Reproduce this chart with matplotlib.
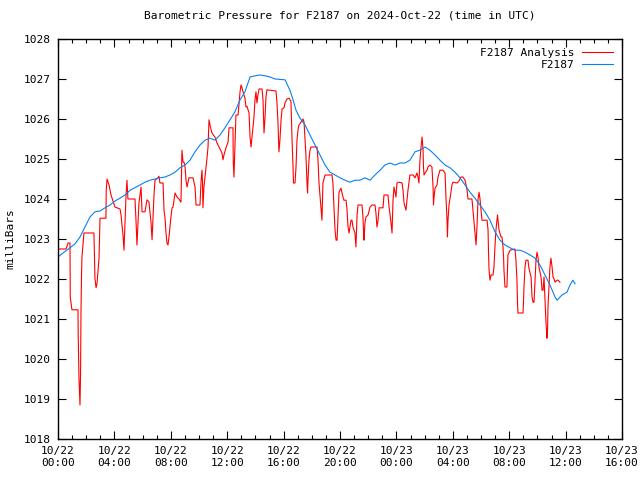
import matplotlib
matplotlib.use("Agg")
import matplotlib.pyplot as plt
from matplotlib.ticker import MultipleLocator, FixedLocator

# hours since 2024-10-22 00:00 UTC
analysis_h = [0.00, 0.57, 0.71, 0.85, 0.87, 0.99, 1.42, 1.43, 1.49, 1.56, 1.60, 1.63, 1.67, 1.70, 1.84,
              2.55, 2.62, 2.70, 2.77, 2.91, 2.98, 3.40, 3.42, 3.48, 3.62, 3.76, 4.04, 4.40, 4.47, 4.61,
              4.68, 4.82, 4.89, 4.96, 5.46, 5.53, 5.60, 5.74, 5.89, 5.96, 6.17, 6.31, 6.45, 6.60, 6.67,
              6.81, 6.88, 7.09, 7.16, 7.23, 7.45, 7.52, 7.59, 7.66, 7.73, 7.80, 7.87, 8.01, 8.09, 8.16,
              8.30, 8.44, 8.58, 8.72, 8.74, 8.79, 8.87, 8.94, 9.01, 9.08, 9.15, 9.29, 9.57, 9.72, 9.79,
              10.07, 10.14, 10.21, 10.25, 10.28, 10.35, 10.57, 10.64, 10.71, 10.78, 10.92, 11.06, 11.13,
              11.28, 11.42, 11.63, 11.70, 11.77, 11.91, 12.06, 12.13, 12.41, 12.43, 12.48, 12.62, 12.77,
              12.91, 12.98, 13.05, 13.12, 13.26, 13.33, 13.40, 13.55, 13.62, 13.69, 13.76, 13.83, 13.90,
              13.97, 14.04, 14.11, 14.18, 14.26, 14.47, 14.54, 14.61, 14.68, 14.75, 14.82, 15.46, 15.53,
              15.60, 15.64, 15.67, 15.74, 15.82, 15.89, 16.03, 16.10, 16.24, 16.38, 16.52, 16.60, 16.67,
              16.70, 16.81, 16.88, 16.95, 17.02, 17.09, 17.23, 17.38, 17.45, 17.52, 17.59, 17.66, 17.70,
              17.73, 17.80, 17.87, 17.94, 18.37, 18.44, 18.51, 18.65, 18.72, 18.76, 18.79, 18.94, 19.43,
              19.50, 19.57, 19.65, 19.72, 19.79, 19.86, 19.93, 20.07, 20.21, 20.28, 20.43, 20.50, 20.57,
              20.64, 20.78, 20.85, 20.92, 21.06, 21.13, 21.21, 21.28, 21.56, 21.63, 21.67, 21.70, 21.77,
              21.84, 21.99, 22.13, 22.27, 22.48, 22.55, 22.62, 22.70, 22.77, 23.05, 23.12, 23.40, 23.48,
              23.62, 23.69, 23.76, 23.83, 23.90, 23.97, 24.04, 24.18, 24.40, 24.47, 24.54, 24.68, 24.75,
              24.82, 24.96, 25.18, 25.32, 25.46, 25.53, 25.60, 25.67, 25.74, 25.82, 25.89, 25.92, 25.96,
              26.03, 26.17, 26.24, 26.38, 26.52, 26.60, 26.63, 26.67, 26.74, 26.88, 26.95, 27.09, 27.30,
              27.45, 27.52, 27.59, 27.62, 27.66, 27.73, 27.87, 27.94, 28.01, 28.30, 28.44, 28.58, 28.72,
              28.87, 28.94, 29.01, 29.08, 29.36, 29.43, 29.50, 29.57, 29.65, 29.72, 29.79, 29.86, 29.93,
              30.00, 30.07, 30.43, 30.50, 30.53, 30.57, 30.64, 30.71, 30.85, 30.92, 30.99, 31.06, 31.13,
              31.17, 31.21, 31.28, 31.42, 31.49, 31.56, 31.60, 31.63, 31.70, 31.84, 31.88, 31.91, 32.06,
              32.41, 32.48, 32.55, 32.59, 32.62, 32.98, 33.01, 33.05, 33.12, 33.19, 33.33, 33.40, 33.55,
              33.62, 33.69, 33.76, 33.83, 33.90, 33.97, 34.04, 34.11, 34.26, 34.33, 34.40, 34.47, 34.54,
              34.61, 34.68, 34.72, 34.75, 34.82, 34.89, 34.96, 35.04, 35.11, 35.18, 35.25, 35.39, 35.46,
              35.60]
analysis_mb = [1022.75, 1022.75, 1022.90, 1022.90, 1021.55, 1021.23, 1021.23, 1020.65, 1019.48, 1018.85,
               1019.65, 1021.18, 1022.15, 1022.55, 1023.15, 1023.15, 1022.02, 1021.78, 1021.90, 1022.52,
               1023.52, 1023.52, 1024.22, 1024.50, 1024.35, 1024.10, 1023.80, 1023.75, 1023.60, 1023.10,
               1022.72, 1024.05, 1024.47, 1024.00, 1024.00, 1023.48, 1022.85, 1023.90, 1024.30, 1023.68,
               1023.68, 1023.98, 1023.93, 1023.40, 1022.98, 1024.10, 1024.47, 1024.53, 1024.57, 1024.40,
               1024.40, 1023.72, 1023.52, 1023.15, 1022.90, 1022.85, 1023.05, 1023.55, 1023.78, 1023.80,
               1024.15, 1024.05, 1024.00, 1023.92, 1024.28, 1025.22, 1024.92, 1024.92, 1024.80, 1024.47,
               1024.30, 1024.53, 1024.53, 1024.30, 1023.85, 1023.85, 1024.40, 1024.72, 1024.42, 1023.78,
               1024.30, 1025.03, 1025.30, 1025.98, 1025.85, 1025.65, 1025.58, 1025.55, 1025.40, 1025.30,
               1025.15, 1024.98, 1025.10, 1025.28, 1025.42, 1025.78, 1025.78, 1024.93, 1024.55, 1026.10,
               1026.10, 1026.68, 1026.85, 1026.78, 1026.68, 1026.52, 1026.30, 1026.32, 1026.15, 1025.55,
               1025.30, 1025.55, 1025.80, 1026.05, 1026.48, 1026.68, 1026.40, 1026.60, 1026.75, 1026.75,
               1026.48, 1025.65, 1026.02, 1026.55, 1026.73, 1026.70, 1026.40, 1025.92, 1025.47, 1025.18,
               1025.47, 1025.98, 1026.25, 1026.28, 1026.40, 1026.50, 1026.52, 1026.45, 1025.47, 1024.80,
               1024.40, 1024.40, 1024.80, 1025.47, 1025.72, 1025.85, 1025.92, 1026.00, 1025.92, 1025.47,
               1025.05, 1024.40, 1024.15, 1024.47, 1024.97, 1025.22, 1025.30, 1025.30, 1024.97, 1024.40,
               1023.80, 1023.47, 1023.97, 1024.40, 1024.60, 1024.60, 1024.40, 1023.80, 1023.22, 1022.97,
               1022.97, 1023.55, 1024.17, 1024.27, 1024.05, 1023.97, 1023.97, 1023.72, 1023.30, 1023.15,
               1023.47, 1023.47, 1023.30, 1023.15, 1022.80, 1023.60, 1023.85, 1023.85, 1023.55, 1023.17,
               1022.97, 1023.40, 1023.55, 1023.60, 1023.80, 1023.85, 1023.85, 1023.65, 1023.30, 1023.47,
               1023.78, 1023.78, 1024.10, 1024.10, 1023.80, 1023.40, 1023.15, 1023.97, 1024.30, 1024.17,
               1024.05, 1024.40, 1024.42, 1024.40, 1024.22, 1023.90, 1023.72, 1023.97, 1024.22, 1024.60,
               1024.60, 1024.53, 1024.65, 1024.55, 1024.40, 1024.97, 1025.27, 1025.55, 1025.22, 1024.80,
               1024.60, 1024.65, 1024.72, 1024.80, 1024.85, 1024.80, 1024.30, 1023.85, 1024.05, 1024.27,
               1024.35, 1024.55, 1024.72, 1024.72, 1024.65, 1024.00, 1023.47, 1023.05, 1023.47, 1023.85,
               1024.17, 1024.35, 1024.42, 1024.40, 1024.45, 1024.55, 1024.55, 1024.47, 1024.35, 1024.22,
               1024.00, 1024.00, 1023.72, 1023.47, 1023.15, 1022.85, 1023.35, 1024.00, 1024.17, 1024.00,
               1023.72, 1023.47, 1023.47, 1023.22, 1022.72, 1022.22, 1021.97, 1022.10, 1022.10, 1022.30,
               1022.80, 1023.22, 1023.47, 1023.60, 1023.47, 1023.22, 1023.05, 1023.05, 1022.80, 1022.55,
               1022.22, 1021.80, 1021.80, 1022.30, 1022.60, 1022.72, 1022.75, 1022.47, 1021.97, 1021.40,
               1021.15, 1021.15, 1021.40, 1021.80, 1022.30, 1022.47, 1022.47, 1022.27, 1022.05, 1021.55,
               1021.42, 1021.42, 1021.97, 1022.47, 1022.67, 1022.55, 1022.30, 1022.05, 1021.72, 1021.72,
               1022.05, 1021.47, 1020.90, 1020.52, 1020.72, 1021.30, 1021.80, 1022.30, 1022.52, 1022.30,
               1022.05, 1022.00, 1021.92, 1021.97, 1021.97, 1021.92]

station_h = [0.00, 0.35, 0.85, 1.21, 1.56, 1.91, 2.27, 2.62, 2.98, 3.33, 3.69, 4.04, 4.40, 4.75, 5.11,
             5.82, 6.17, 6.52, 7.23, 7.59, 7.94, 8.30, 8.65, 9.01, 9.36, 9.72, 10.07, 10.43, 10.78, 11.13,
             11.49, 11.84, 12.20, 12.55, 12.91, 13.26, 13.62, 13.97, 14.33, 14.68, 15.04, 15.39, 16.10,
             16.45, 16.67, 16.88, 17.16, 17.52, 17.87, 18.23, 18.58, 18.94, 19.29, 19.65, 20.00, 20.35,
             20.71, 21.06, 21.42, 21.77, 22.13, 22.48, 22.84, 23.19, 23.55, 23.90, 24.26, 24.61, 24.96,
             25.32, 25.67, 26.03, 26.38, 26.74, 27.09, 27.45, 27.80, 28.16, 28.51, 28.87, 29.22, 29.57,
             29.93, 30.28, 30.64, 30.99, 31.35, 31.70, 32.06, 32.41, 32.77, 33.12, 33.48, 33.83, 34.18,
             34.54, 34.89, 35.25, 35.39, 35.74, 36.10, 36.31, 36.52, 36.67]
station_mb = [1022.55, 1022.65, 1022.78, 1022.88, 1023.05, 1023.30, 1023.55, 1023.68, 1023.70, 1023.78,
              1023.85, 1023.95, 1024.02, 1024.10, 1024.22, 1024.35, 1024.42, 1024.47, 1024.53, 1024.55,
              1024.60, 1024.67, 1024.78, 1024.85, 1024.97, 1025.18, 1025.35, 1025.47, 1025.52, 1025.47,
              1025.60, 1025.78, 1025.98, 1026.18, 1026.48, 1026.68, 1027.05, 1027.08, 1027.10, 1027.08,
              1027.05, 1027.00, 1026.98, 1026.72, 1026.48, 1026.22, 1026.02, 1025.85, 1025.60, 1025.35,
              1025.10, 1024.85, 1024.67, 1024.60, 1024.53, 1024.47, 1024.42, 1024.47, 1024.47, 1024.53,
              1024.47, 1024.60, 1024.72, 1024.85, 1024.90, 1024.85, 1024.90, 1024.90, 1024.97, 1025.18,
              1025.22, 1025.30, 1025.22, 1025.10, 1024.97, 1024.85, 1024.78, 1024.67, 1024.53, 1024.35,
              1024.17, 1024.02, 1023.85, 1023.68, 1023.47, 1023.18, 1022.97, 1022.85, 1022.78, 1022.72,
              1022.72, 1022.67, 1022.60, 1022.52, 1022.35, 1022.10, 1021.85, 1021.55, 1021.47, 1021.60,
              1021.67, 1021.85, 1021.97, 1021.88]

tick_hours = [0, 4, 8, 12, 16, 20, 24, 28, 32, 36, 40]
tick_labels = ["10/22\n00:00", "10/22\n04:00", "10/22\n08:00", "10/22\n12:00", "10/22\n16:00",
               "10/22\n20:00", "10/23\n00:00", "10/23\n04:00", "10/23\n08:00", "10/23\n12:00",
               "10/23\n16:00"]

plt.rcParams['font.family'] = ['DejaVu Sans Mono']
fig = plt.figure(figsize=(6.4, 4.8), dpi=100)
ax = fig.add_axes([58/640, 1-439/480, 564/640, 400/480])

ax.plot(analysis_h, analysis_mb, color='#ff0000', lw=0.8, label='F2187 Analysis')
ax.plot(station_h, station_mb, color='#0a80f0', lw=0.8, label='F2187')

ax.set_xlim(0, 40)
ax.set_ylim(1018, 1028)
ax.xaxis.set_major_locator(FixedLocator(tick_hours))
ax.set_xticklabels(tick_labels)
ax.xaxis.set_minor_locator(MultipleLocator(1))
ax.yaxis.set_major_locator(MultipleLocator(1))
ax.yaxis.set_major_formatter(matplotlib.ticker.FormatStrFormatter('%d'))
ax.tick_params(which='both', direction='in', top=True, right=True, labelsize=8, pad=5)
ax.tick_params(which='major', length=6, width=0.8)
ax.tick_params(which='minor', length=3, width=0.8)
for s in ax.spines.values():
    s.set_linewidth(1.0)

ax.set_title('Barometric Pressure for F2187 on 2024-Oct-22 (time in UTC)', fontsize=8, pad=15)
ax.set_ylabel('milliBars', fontsize=8, labelpad=6)

leg = ax.legend(loc='upper right', frameon=False, markerfirst=False, fontsize=8,
                handlelength=2.8, handletextpad=0.7, borderaxespad=0.4, labelspacing=0.2)
for t in leg.get_texts():
    t.set_ha('right')

fig.savefig('out.png', dpi=100)
